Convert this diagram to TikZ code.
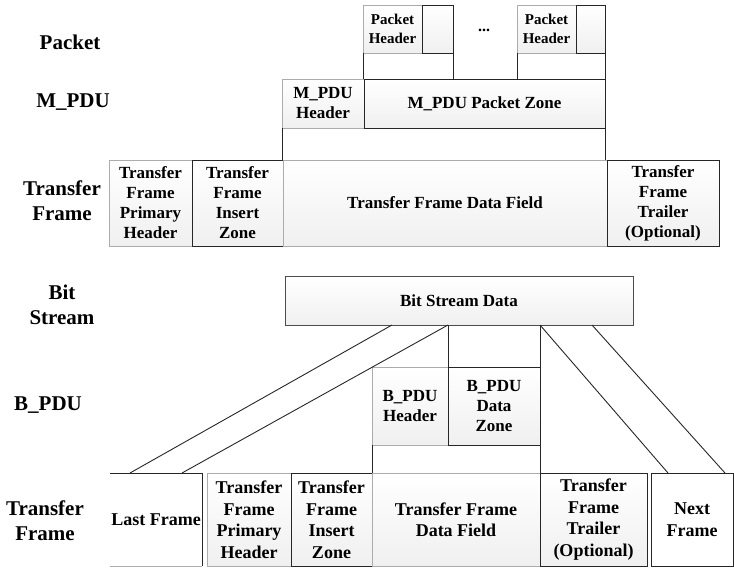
\documentclass[tikz,border=0pt]{standalone}
\usepackage{fontspec}
\setmainfont{Liberation Serif}
\usetikzlibrary{positioning}

\tikzset{
  layer/.style={font=\bfseries\fontsize{21}{25}\selectfont, align=center},
  cell/.style={draw=gray!65, top color=white, bottom color=gray!12, inner sep=0pt, outer sep=0pt,
    align=center, font=\bfseries\fontsize{17}{20}\selectfont},
  darkcell/.style={cell, draw=black!85},
  bigcell/.style={font=\bfseries\fontsize{18}{21.5}\selectfont},
  link/.style={draw=black!85, line width=0.9pt},
}

\begin{document}
\begin{tikzpicture}[x=1pt, y=-1pt]
  \useasboundingbox (0,0) rectangle (734,570);

  % row labels
  \node[layer] (lbPacket) at (70,42) {Packet};
  \node[layer] (lbMpdu) at (73,102) {M\_PDU};
  \node[layer] (lbFrameA) at (62,201) {Transfer\\Frame};
  \node[layer] (lbBits) at (62,305) {Bit\\Stream};
  \node[layer] (lbBpdu) at (48,405) {B\_PDU};
  \node[layer] (lbFrameB) at (45,521) {Transfer\\Frame};

  % packets
  \node[cell, font=\bfseries\fontsize{15}{19}\selectfont, minimum width=59pt, minimum height=48pt, anchor=north west] (pkA) at (363,5) {Packet\\Header};
  \node[darkcell, minimum width=31pt, minimum height=48pt, right=0pt of pkA] (pkAtail) {};
  \node[font=\bfseries\fontsize{16}{18}\selectfont] (dots) at (484,30) {...};
  \node[cell, font=\bfseries\fontsize{15}{19}\selectfont, minimum width=59pt, minimum height=48pt, anchor=north west] (pkB) at (517,5) {Packet\\Header};
  \node[darkcell, minimum width=29pt, minimum height=48pt, right=0pt of pkB] (pkBtail) {};

  % M_PDU
  \node[cell, minimum width=82pt, minimum height=49pt, anchor=north west] (mHdr) at (282,79) {M\_PDU\\Header};
  \node[darkcell, minimum width=241pt, minimum height=49pt, right=0pt of mHdr] (mZone) {M\_PDU Packet Zone};

  % transfer frame (upper)
  \node[cell, minimum width=83pt, minimum height=86pt, anchor=north west] (phA) at (109,160) {Transfer\\Frame\\Primary\\Header};
  \node[darkcell, minimum width=91pt, minimum height=86pt, right=0pt of phA] (izA) {Transfer\\Frame\\Insert\\Zone};
  \node[cell, minimum width=324pt, minimum height=86pt, right=0pt of izA] (dfA) {Transfer Frame Data Field};
  \node[darkcell, minimum width=112pt, minimum height=86pt, right=0pt of dfA] (trA) {Transfer\\Frame\\Trailer\\(Optional)};

  \draw[link] (pkA.south west) -- (pkA.south west |- mZone.north);
  \draw[link] (pkAtail.south east) -- (pkAtail.south east |- mZone.north);
  \draw[link] (pkB.south west) -- (pkB.south west |- mZone.north);
  \draw[link] (pkBtail.south east) -- (pkBtail.south east |- mZone.north);
  \draw[link] (mHdr.south west) -- (mHdr.south west |- dfA.north);
  \draw[link] (mZone.south east) -- (mZone.south east |- dfA.north);

  % bit stream
  \node[darkcell, draw=black!70, font=\bfseries\fontsize{17}{20}\selectfont, minimum width=348pt, minimum height=49pt, anchor=north west] (bits) at (285,276) {Bit Stream Data};

  % B_PDU
  \node[cell, minimum width=76pt, minimum height=78pt, anchor=north west] (bHdr) at (372,367) {B\_PDU\\Header};
  \node[darkcell, minimum width=92pt, minimum height=78pt, right=0pt of bHdr] (bZone) {B\_PDU\\Data\\Zone};

  % transfer frame (lower)
  \node[bigcell, inner sep=0pt, outer sep=0pt, minimum width=92pt, minimum height=93pt, anchor=north west] (lastF) at (110,473) {Last Frame};
  \node[cell, bigcell, minimum width=84pt, minimum height=93pt, anchor=north west] (phB) at (207,473) {Transfer\\Frame\\Primary\\Header};
  \node[darkcell, bigcell, minimum width=81pt, minimum height=93pt, right=0pt of phB] (izB) {Transfer\\Frame\\Insert\\Zone};
  \node[cell, bigcell, minimum width=168pt, minimum height=93pt, right=0pt of izB] (dfB) {Transfer Frame\\Data Field};
  \node[darkcell, bigcell, minimum width=107pt, minimum height=93pt, right=0pt of dfB] (trB) {Transfer\\Frame\\Trailer\\(Optional)};
  \node[darkcell, bigcell, top color=white, bottom color=white, minimum width=82pt, minimum height=93pt, anchor=north west] (nextF) at (651,473) {Next\\Frame};
  \draw[link] (lastF.north west) -- (lastF.north east) -- (lastF.south east);
  \draw[gray!65] (lastF.south east) -- (lastF.south west);

  \draw[link] (bHdr.north east |- bits.south) -- (bHdr.north east);
  \draw[link] (bZone.north east |- bits.south) -- (bZone.north east);
  \draw[link] (bHdr.south west) -- (bHdr.south west |- dfB.north);
  \draw[link] (bZone.south east) -- (bZone.south east |- dfB.north);

  \coordinate (bitsA) at ([xshift=107pt]bits.south west);
  \coordinate (bitsB) at ([xshift=307pt]bits.south west);
  \coordinate (lastA) at ([xshift=20pt]lastF.north west);
  \coordinate (lastB) at ([xshift=72pt]lastF.north west);
  \coordinate (nextA) at ([xshift=17pt]nextF.north west);
  \coordinate (nextB) at ([xshift=74pt]nextF.north west);
  \draw[link] (bitsA) -- (lastA);
  \draw[link] (bHdr.north east |- bits.south) -- (lastB);
  \draw[link] (bZone.north east |- bits.south) -- (nextA);
  \draw[link] (bitsB) -- (nextB);
\end{tikzpicture}
\end{document}
